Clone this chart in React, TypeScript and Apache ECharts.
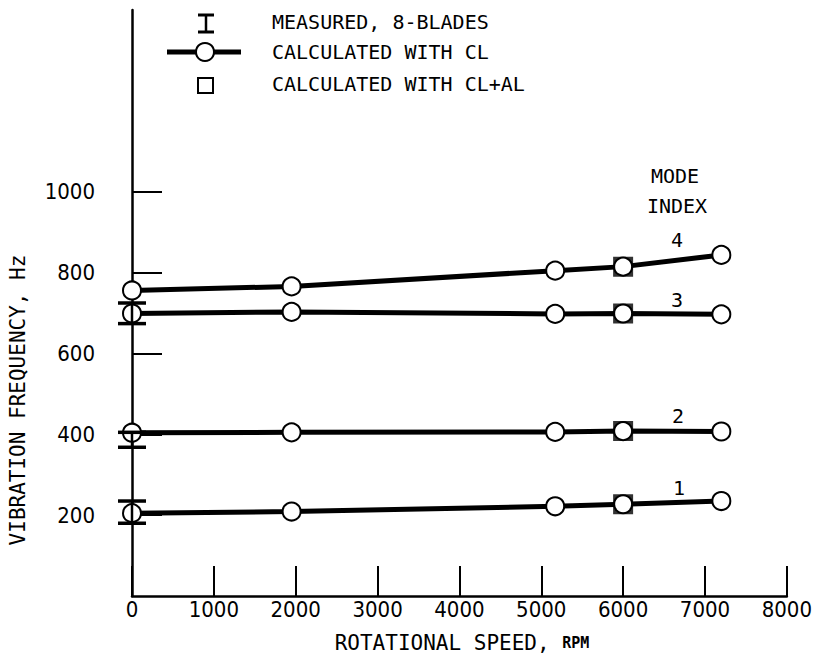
import React, { useEffect, useRef } from "react";
import * as echarts from "echarts";

const rpm = [0, 1950, 5170, 6000, 7200];
const mode1 = [205, 209, 222, 227, 235];
const mode2 = [404, 405, 406, 408, 407];
const mode3 = [699, 703, 698, 699, 697];
const mode4 = [756, 766, 805, 815, 844];
const clalRpm = 6000;
const clalValues = [227, 408, 699, 815];
const measuredRpm = 0;
const measuredLow = [180, 368, 674];
const measuredHigh = [235, 405, 725];
const xTicks = [0, 1000, 2000, 3000, 4000, 5000, 6000, 7000, 8000];
const yTicks = [200, 400, 600, 800, 1000];
const modeNames = ["1", "2", "3", "4"];

const FONT = "'DejaVu Sans Mono', monospace";
const NUMFONT = "'Liberation Sans Narrow', 'DejaVu Sans Condensed', sans-serif";

export default function App() {
  const ref = useRef<HTMLDivElement>(null);
  useEffect(() => {
    if (!ref.current) return;
    const chart = echarts.init(ref.current, null, { renderer: "svg" });
    const modes = [mode1, mode2, mode3, mode4];
    const lineSeries = modes.map((m, i) => ({
      type: "line",
      name: "mode" + modeNames[i],
      data: rpm.map((r, j) => [r, m[j]]),
      symbol: "circle",
      symbolSize: 18,
      showAllSymbol: true,
      z: 3,
      lineStyle: { color: "#000", width: 5 },
      itemStyle: { color: "#fff", borderColor: "#000", borderWidth: 2 },
      silent: true,
    }));
    const option: any = {
      animation: false,
      backgroundColor: "#fff",
      grid: { left: 132, right: 22, top: 10, bottom: 67 },
      xAxis: {
        type: "value",
        min: 0,
        max: 8000,
        interval: 1000,
        axisLine: { show: true, lineStyle: { color: "#000", width: 2.5 } },
        axisTick: { show: true, inside: true, length: 30, lineStyle: { color: "#000", width: 2 }, customValues: xTicks },
        axisLabel: { color: "#000", fontFamily: NUMFONT, fontSize: 22, margin: 2, customValues: xTicks, formatter: (v: number) => String(v) },
        splitLine: { show: false },
      },
      yAxis: {
        type: "value",
        min: 0,
        max: 1450,
        axisLine: { show: true, lineStyle: { color: "#000", width: 2.5 } },
        axisTick: { show: true, inside: true, length: 30, lineStyle: { color: "#000", width: 2 }, customValues: yTicks },
        axisLabel: { color: "#000", fontFamily: NUMFONT, fontSize: 22, margin: 37, customValues: yTicks, formatter: (v: number) => String(v) },
        splitLine: { show: false },
      },
      series: [
        {
          type: "custom",
          name: "measured",
          data: measuredLow.map((lo, i) => [measuredRpm, lo, measuredHigh[i]]),
          z: 4,
          renderItem: (params: any, api: any) => {
            const x = api.value(0);
            const p1 = api.coord([x, api.value(1)]);
            const p2 = api.coord([x, api.value(2)]);
            const hw = 14;
            const st = { stroke: "#000", lineWidth: 3.5 };
            return {
              type: "group",
              children: [
                { type: "line", shape: { x1: p1[0], y1: p1[1], x2: p2[0], y2: p2[1] }, style: { stroke: "#000", lineWidth: 2.5 } },
                { type: "line", shape: { x1: p1[0] - hw, y1: p1[1], x2: p1[0] + hw, y2: p1[1] }, style: st },
                { type: "line", shape: { x1: p2[0] - hw, y1: p2[1], x2: p2[0] + hw, y2: p2[1] }, style: st },
              ],
            };
          },
        },
        {
          type: "scatter",
          name: "clal",
          data: clalValues.map((v) => [clalRpm, v]),
          symbol: "rect",
          symbolSize: 17,
          z: 2,
          itemStyle: { color: "#fff", borderColor: "#000", borderWidth: 3 },
          silent: true,
        },
        ...lineSeries,
      ],
      graphic: [
        // legend
        { type: "line", shape: { x1: 198, y1: 15, x2: 214, y2: 15 }, style: { stroke: "#000", lineWidth: 3 } },
        { type: "line", shape: { x1: 198, y1: 32, x2: 214, y2: 32 }, style: { stroke: "#000", lineWidth: 3 } },
        { type: "line", shape: { x1: 206, y1: 15, x2: 206, y2: 32 }, style: { stroke: "#000", lineWidth: 2.5 } },
        { type: "line", shape: { x1: 167, y1: 52, x2: 241, y2: 52 }, style: { stroke: "#000", lineWidth: 5 } },
        { type: "circle", shape: { cx: 205, cy: 52, r: 9 }, style: { fill: "#fff", stroke: "#000", lineWidth: 2 } },
        { type: "rect", shape: { x: 198, y: 78, width: 15, height: 15 }, style: { fill: "#fff", stroke: "#000", lineWidth: 2 } },
        { type: "text", x: 272, y: 22, style: { text: "MEASURED, 8-BLADES", font: `20px ${FONT}`, fill: "#000", verticalAlign: "middle" } },
        { type: "text", x: 272, y: 52, style: { text: "CALCULATED WITH CL", font: `20px ${FONT}`, fill: "#000", verticalAlign: "middle" } },
        { type: "text", x: 272, y: 84, style: { text: "CALCULATED WITH CL+AL", font: `20px ${FONT}`, fill: "#000", verticalAlign: "middle" } },
        // mode index labels
        { type: "text", x: 675, y: 176, style: { text: "MODE", font: `20px ${FONT}`, fill: "#000", align: "center", verticalAlign: "middle" } },
        { type: "text", x: 677, y: 206, style: { text: "INDEX", font: `20px ${FONT}`, fill: "#000", align: "center", verticalAlign: "middle" } },
        { type: "text", x: 677, y: 240, style: { text: modeNames[3], font: `20px ${FONT}`, fill: "#000", align: "center", verticalAlign: "middle" } },
        { type: "text", x: 677, y: 300, style: { text: modeNames[2], font: `20px ${FONT}`, fill: "#000", align: "center", verticalAlign: "middle" } },
        { type: "text", x: 678, y: 416, style: { text: modeNames[1], font: `20px ${FONT}`, fill: "#000", align: "center", verticalAlign: "middle" } },
        { type: "text", x: 679, y: 488, style: { text: modeNames[0], font: `20px ${FONT}`, fill: "#000", align: "center", verticalAlign: "middle" } },
        // axis titles
        {
          type: "text",
          x: 18,
          y: 400,
          rotation: Math.PI / 2,
          style: { text: "VIBRATION FREQUENCY, Hz", font: `21px ${FONT}`, fill: "#000", align: "center", verticalAlign: "middle" },
        },
        {
          type: "text",
          x: 462,
          y: 643,
          style: {
            text: "{a|ROTATIONAL SPEED, }{b|RPM}",
            align: "center",
            verticalAlign: "middle",
            rich: {
              a: { fontFamily: FONT, fontSize: 21, fill: "#000", color: "#000" },
              b: { fontFamily: FONT, fontSize: 15, fill: "#000", color: "#000", fontWeight: "bold" },
            },
          },
        },
      ],
    };
    chart.setOption(option);
    return () => chart.dispose();
  }, []);
  return <div ref={ref} style={{ position: "fixed", left: 0, top: 0, width: 815, height: 663, background: "#fff" }} />;
}
